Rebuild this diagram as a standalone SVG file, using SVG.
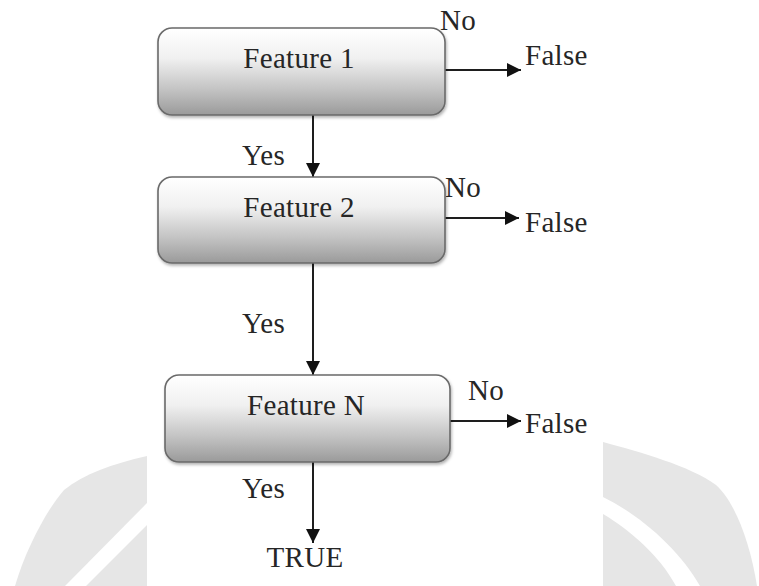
<svg xmlns="http://www.w3.org/2000/svg" width="759" height="586" viewBox="0 0 759 586">
  <style>
    .lbl { font-family: 'Liberation Serif', 'Tinos', 'Times New Roman', 'DejaVu Serif', serif; font-size: 29px; letter-spacing: 0.3px; fill: #262626; }
    .box { fill: url(#boxFill); stroke: #6a6a6a; stroke-width: 1.6; filter: url(#soft); }
    .edge { stroke: #1e1e1e; stroke-width: 2; fill: none; marker-end: url(#head); }
    .mark { fill: #e6e6e6; }
  </style>
  <defs>
    <linearGradient id="boxFill" x1="0" y1="0" x2="0" y2="1">
      <stop offset="0" stop-color="#ffffff"/>
      <stop offset="0.35" stop-color="#f0f0f0"/>
      <stop offset="0.7" stop-color="#c4c4c4"/>
      <stop offset="1" stop-color="#9a9a9a"/>
    </linearGradient>
    <filter id="soft" x="-5%" y="-10%" width="110%" height="125%">
      <feDropShadow dx="1" dy="2" stdDeviation="1.5" flood-color="#000" flood-opacity="0.3"/>
    </filter>
    <marker id="head" viewBox="0 0 10 10" refX="10" refY="5" markerWidth="7" markerHeight="7" markerUnits="strokeWidth" orient="auto">
      <path d="M0 0 L10 5 L0 10 Z" fill="#111"/>
    </marker>
  </defs>

  <rect width="759" height="586" fill="#ffffff"/>

  <!-- background emblem: grey outer band with a light gap band -->
  <g id="emblem">
    <path class="mark" d="M147 456 C112 464 84 474 64 490 C48 508 26 548 15 586 L147 586 Z"/>
    <path fill="#ffffff" d="M147 503 L65 586 L86 586 L147 525 Z"/>
    <path class="mark" d="M603 442 C640 452 690 466 716 485 C735 502 750 542 757 586 L603 586 Z"/>
    <path fill="#ffffff" d="M603 497 C640 515 680 550 700 586 L676 586 C660 556 630 530 603 514 Z"/>
  </g>
  <rect x="147" y="0" width="456" height="586" fill="#ffffff"/>

  <!-- connectors -->
  <g id="connectors">
    <line class="edge" x1="313" y1="115" x2="313" y2="177"/>
    <line class="edge" x1="313" y1="263" x2="313" y2="375"/>
    <line class="edge" x1="313" y1="462" x2="313" y2="543"/>
    <line class="edge" x1="445" y1="70" x2="521" y2="70"/>
    <line class="edge" x1="445" y1="218" x2="519" y2="218"/>
    <line class="edge" x1="450" y1="421" x2="521" y2="421"/>
    <text class="lbl" x="440" y="30">No</text>
    <text class="lbl" x="525" y="65">False</text>
    <text class="lbl" x="445" y="197">No</text>
    <text class="lbl" x="525" y="232">False</text>
    <text class="lbl" x="468" y="400">No</text>
    <text class="lbl" x="525" y="433">False</text>
    <text class="lbl" x="242" y="165">Yes</text>
    <text class="lbl" x="242" y="333">Yes</text>
    <text class="lbl" x="242" y="498">Yes</text>
  </g>

  <g id="feature1">
    <rect class="box" x="158" y="28" width="287" height="87" rx="14"/>
    <text class="lbl" x="299" y="68" text-anchor="middle">Feature 1</text>
  </g>
  <g id="feature2">
    <rect class="box" x="158" y="177" width="287" height="86" rx="14"/>
    <text class="lbl" x="299" y="217" text-anchor="middle">Feature 2</text>
  </g>
  <g id="featureN">
    <rect class="box" x="165" y="375" width="285" height="87" rx="14"/>
    <text class="lbl" x="306" y="415" text-anchor="middle">Feature N</text>
  </g>
  <g id="true">
    <text class="lbl" x="305" y="567" text-anchor="middle">TRUE</text>
  </g>
</svg>
